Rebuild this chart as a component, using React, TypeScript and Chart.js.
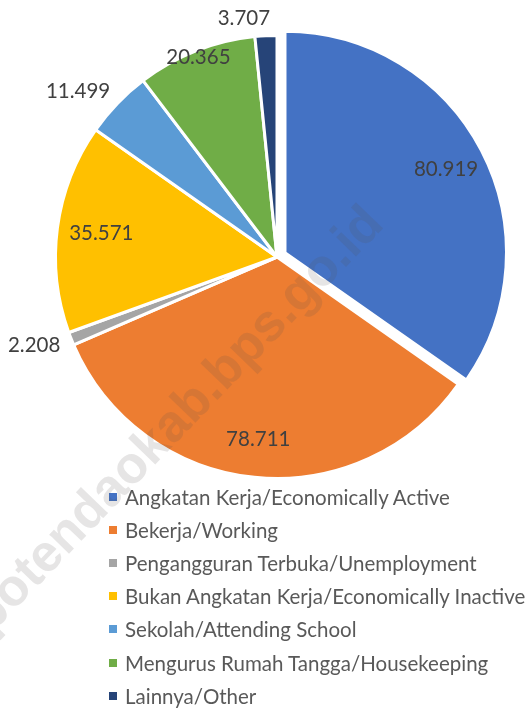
import React, { useEffect, useRef } from "react";
import { Chart, registerables } from "chart.js";

Chart.register(...registerables);

const categories = [
  "Angkatan Kerja/Economically Active",
  "Bekerja/Working",
  "Pengangguran Terbuka/Unemployment",
  "Bukan Angkatan Kerja/Economically Inactive",
  "Sekolah/Attending School",
  "Mengurus Rumah Tangga/Housekeeping",
  "Lainnya/Other",
];
const values = [80.919, 78.711, 2.208, 35.571, 11.499, 20.365, 3.707];
const valueLabels = ["80.919", "78.711", "2.208", "35.571", "11.499", "20.365", "3.707"];
const colors = ["#4472C4", "#ED7D31", "#A5A5A5", "#FFC000", "#5B9BD5", "#70AD47", "#264478"];

// label placement style: inside factor of radius, or outside (right aligned)
const labelPlacement = [
  { inside: true, f: 0.82 },
  { inside: true, f: 0.83 },
  { inside: false, f: 0 },
  { inside: true, f: 0.8 },
  { inside: false, f: 0 },
  { inside: true, f: 0.97 },
  { inside: false, f: 0 },
];
const EXPLODE = 9;
const LABEL_FONT = "Lato, 'Liberation Sans', sans-serif";

const explodePlugin = {
  id: "explodeFirst",
  beforeDatasetsDraw(chart: any) {
    const el = chart.getDatasetMeta(0).data[0];
    if (el && !el.__wrapped) {
      const orig = el.draw;
      el.draw = function (ctx: CanvasRenderingContext2D) {
        const mid = (this.startAngle + this.endAngle) / 2;
        ctx.save();
        ctx.translate(Math.cos(mid) * EXPLODE, Math.sin(mid) * EXPLODE);
        orig.call(this, ctx);
        ctx.restore();
      };
      el.__wrapped = true;
    }
  },
};

const labelsPlugin = {
  id: "valueLabels",
  afterDatasetsDraw(chart: any) {
    const ctx = chart.ctx as CanvasRenderingContext2D;
    const meta = chart.getDatasetMeta(0);
    ctx.save();
    ctx.fillStyle = "#404040";
    ctx.font = `20.5px ${LABEL_FONT}`;
    ctx.textBaseline = "middle";
    meta.data.forEach((el: any, i: number) => {
      const mid = (el.startAngle + el.endAngle) / 2;
      let cx = el.x;
      let cy = el.y;
      if (i === 0) {
        cx += Math.cos(mid) * EXPLODE;
        cy += Math.sin(mid) * EXPLODE;
      }
      const p = labelPlacement[i];
      const r = el.outerRadius;
      if (p.inside) {
        ctx.textAlign = "center";
        ctx.fillText(valueLabels[i], cx + Math.cos(mid) * r * p.f, cy + Math.sin(mid) * r * p.f);
      } else {
        ctx.textAlign = "right";
        const rr = r + 17;
        ctx.fillText(valueLabels[i], cx + Math.cos(mid) * rr + 5, cy + Math.sin(mid) * rr);
      }
    });
    ctx.restore();
  },
};

export default function App() {
  const ref = useRef<HTMLCanvasElement>(null);
  useEffect(() => {
    document.body.style.margin = "0";
    const chart = new Chart(ref.current!, {
      type: "pie",
      data: {
        labels: categories,
        datasets: [
          {
            data: values,
            backgroundColor: colors,
            borderColor: "#ffffff",
            borderWidth: 3,
          },
        ],
      },
      options: {
        responsive: false,
        maintainAspectRatio: false,
        animation: false,
        layout: { padding: { left: 54, top: 34, right: 32, bottom: 10 } },
        plugins: {
          legend: { display: false },
          tooltip: { enabled: false },
        },
      },
      plugins: [explodePlugin, labelsPlugin],
    });
    return () => chart.destroy();
  }, []);

  return (
    <div
      style={{
        position: "absolute",
        left: 0,
        top: 0,
        width: 532,
        height: 708,
        overflow: "hidden",
        background: "#ffffff",
      }}
    >
      <canvas ref={ref} width={532} height={490} style={{ position: "absolute", left: 0, top: 0, width: 532, height: 490 }} />
      <div
        style={{
          position: "absolute",
          left: 109,
          top: 480,
          fontFamily: LABEL_FONT,
          fontSize: 20.5,
          color: "#595959",
        }}
      >
        {categories.map((c, i) => (
          <div key={c} style={{ height: 33.2, display: "flex", alignItems: "center", whiteSpace: "nowrap" }}>
            <span style={{ display: "inline-block", width: 8, height: 8, background: colors[i], marginRight: 8 }} />
            <span>{c}</span>
          </div>
        ))}
      </div>
      <div
        style={{
          position: "absolute",
          left: 175,
          top: 418,
          transform: "translate(-50%, -50%) rotate(-46deg)",
          fontFamily: "'Liberation Sans', Arial, sans-serif",
          fontWeight: "bold",
          fontSize: 52,
          color: "rgba(90, 80, 80, 0.15)",
          whiteSpace: "nowrap",
          pointerEvents: "none",
        }}
      >
        potendaokab.bps.go.id
      </div>
    </div>
  );
}
